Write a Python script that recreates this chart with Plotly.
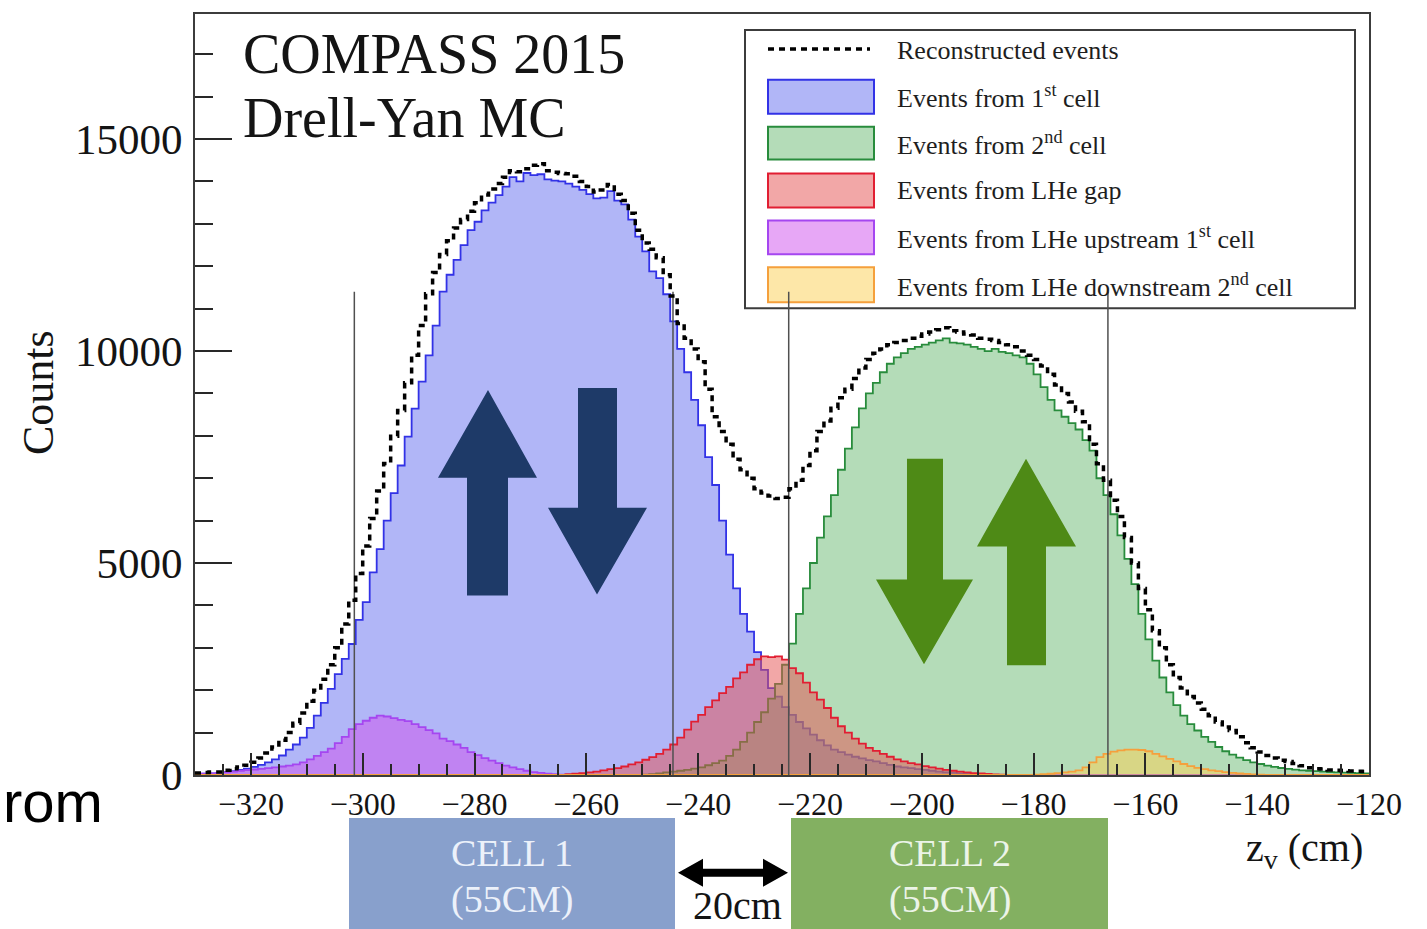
import numpy as np
import plotly.graph_objects as go

# ---- binning of the vertex z histograms (cm) ----
Z_LO = -330.0
BIN_W = 1.25
N_BINS = 168

# reconstructed events, all bins
recon_counts = [50, 60, 70, 70, 110, 150, 190, 230, 300, 400,
                520, 660, 820, 1000, 1220, 1460, 1740, 2000, 2260, 2600,
                3000, 3560, 4120, 4750, 5400, 6050, 6700, 7350, 7990, 8600,
                9250, 9900, 10600, 11350, 11850, 12280, 12600, 12900, 13100, 13300,
                13500, 13680, 13820, 13950, 14100, 14250, 14230, 14300, 14380, 14420,
                14250, 14220, 14190, 14180, 14120, 14000, 13880, 13750, 13800, 13930,
                13700, 13550, 13250, 12850, 12550, 12400, 12200, 11800, 11300, 10650,
                10300, 10050, 9750, 9100, 8450, 8100, 7800, 7450, 7200, 7000,
                6750, 6650, 6580, 6520, 6550, 6750, 6950, 7300, 7650, 8100,
                8350, 8650, 8900, 9100, 9350, 9600, 9800, 9950, 10050, 10150,
                10200, 10250, 10300, 10350, 10400, 10450, 10500, 10550, 10480, 10450,
                10400, 10380, 10300, 10280, 10250, 10200, 10150, 10100, 10000, 9900,
                9800, 9650, 9450, 9200, 9000, 8800, 8580, 8330, 7800, 7340,
                6950, 6480, 6100, 5600, 5000, 4400, 3900, 3400, 3000, 2600,
                2300, 2050, 1850, 1700, 1550, 1400, 1250, 1130, 1050, 900,
                760, 640, 540, 460, 400, 350, 320, 270, 220, 170,
                150, 140, 120, 110, 100, 95, 90, 80]

# events from the 1st cell (starting at bin 0)
cell1_first_bin = 0
cell1_counts = [20, 30, 40, 50, 70, 90, 120, 150, 190, 240,
                300, 370, 460, 600, 720, 880, 1110, 1400, 1700, 2030,
                2380, 2740, 3090, 3660, 4080, 4780, 5330, 6000, 6650, 7300,
                7980, 8640, 9280, 9900, 10600, 11400, 11800, 12150, 12500, 12850,
                13050, 13320, 13500, 13680, 13880, 14100, 14000, 14200, 14150, 14170,
                14050, 14020, 14000, 13950, 13880, 13800, 13700, 13600, 13620, 13770,
                13550, 13460, 13100, 12700, 12350, 11880, 11720, 11340, 10700, 10050,
                9500, 8850, 8250, 7500, 6840, 6000, 5200, 4400, 3800, 3380,
                2900, 2480, 2050, 1850, 1600, 1420, 1250, 1100, 950, 820,
                700, 600, 540, 480, 430, 390, 350, 320, 280, 240,
                200, 180, 160, 140, 120, 100, 80, 60, 50, 40,
                30, 20]

# events from the 2nd cell
cell2_first_bin = 64
cell2_counts = [10, 20, 40, 60, 80, 100, 120, 150, 180, 230,
                280, 340, 450, 600, 780, 1000, 1250, 1480, 1800, 2150,
                2600, 3100, 3800, 4400, 5000, 5600, 6100, 6600, 7200, 7700,
                8200, 8650, 9000, 9250, 9500, 9700, 9850, 9950, 10050, 10100,
                10150, 10200, 10250, 10300, 10200, 10180, 10150, 10100, 10050, 10000,
                10050, 9980, 9950, 9900, 9850, 9700, 9450, 9150, 8850, 8600,
                8450, 8300, 8150, 7900, 7650, 7000, 6600, 6150, 5650, 5100,
                4500, 3800, 3200, 2700, 2300, 1950, 1650, 1400, 1200, 1050,
                900, 780, 660, 560, 480, 410, 350, 300, 260, 220,
                190, 165, 145, 125, 110, 100, 90, 80, 70, 62,
                55, 50, 45, 40]

# events from the LHe gap between the cells
gap_first_bin = 53
gap_counts = [20, 30, 45, 60, 80, 110, 140, 160, 200, 250,
              300, 360, 420, 500, 600, 720, 880, 1070, 1260, 1420,
              1600, 1760, 1930, 2080, 2280, 2420, 2600, 2730, 2800, 2780,
              2800, 2720, 2520, 2400, 2180, 1950, 1780, 1580, 1350, 1150,
              1000, 860, 740, 640, 570, 500, 430, 370, 320, 280,
              250, 210, 180, 150, 120, 100, 80, 60, 45, 35,
              25, 15, 10]

# events from LHe upstream of the 1st cell
upstream_first_bin = 0
upstream_counts = [20, 30, 40, 50, 60, 80, 100, 115, 130, 145,
                   160, 180, 200, 220, 250, 300, 370, 450, 540, 620,
                   750, 900, 1080, 1200, 1280, 1350, 1400, 1380, 1340, 1300,
                   1270, 1200, 1130, 1060, 980, 860, 800, 720, 640, 540,
                   470, 400, 340, 280, 220, 180, 140, 100, 70, 50,
                   30, 20, 10]

# events from LHe downstream of the 2nd cell
downstream_first_bin = 120
downstream_counts = [10, 20, 30, 45, 60, 80, 110, 180, 300, 420,
                     500, 550, 580, 600, 600, 590, 560, 500, 440, 380,
                     320, 260, 210, 170, 140, 110, 90, 70, 50, 35,
                     25, 15, 10]

# cell boundary markers (cm) and their height (counts)
cell_edges_z = [-301.5, -244.5, -223.8, -166.7]
cell_marker_top = 11400

legend_labels = [
    "Reconstructed events",
    "Events from 1<sup>st</sup> cell",
    "Events from 2<sup>nd</sup> cell",
    "Events from LHe gap",
    "Events from LHe upstream 1<sup>st</sup> cell",
    "Events from LHe downstream 2<sup>nd</sup> cell",
]

SERIF = "Liberation Serif"

edges = Z_LO + BIN_W * np.arange(N_BINS + 1)


def full(first, vals):
    y = np.zeros(N_BINS)
    y[first:first + len(vals)] = vals
    return y


def step_y(counts):
    return np.append(counts, counts[-1])


components = [
    (full(cell1_first_bin, cell1_counts), "rgb(50,50,230)", "rgba(100,110,240,0.5)"),
    (full(cell2_first_bin, cell2_counts), "rgb(40,140,60)", "rgba(105,185,113,0.5)"),
    (full(gap_first_bin, gap_counts), "rgb(225,30,50)", "rgba(229,79,79,0.5)"),
    (full(upstream_first_bin, upstream_counts), "rgb(165,70,240)", "rgba(208,80,238,0.5)"),
    (full(downstream_first_bin, downstream_counts), "rgb(245,160,60)", "rgba(251,207,81,0.5)"),
]

fig = go.Figure()
for counts, lc, fc in components:
    fig.add_trace(go.Scatter(
        x=edges, y=step_y(counts), mode="lines",
        line=dict(shape="hv", color=lc, width=1.8),
        fill="tozeroy", fillcolor=fc, hoverinfo="skip", showlegend=False))

# cell boundary markers
vx, vy = [], []
for z in cell_edges_z:
    vx += [z, z, None]
    vy += [0, cell_marker_top, None]
fig.add_trace(go.Scatter(x=vx, y=vy, mode="lines",
                         line=dict(color="rgb(80,80,80)", width=1.5),
                         hoverinfo="skip", showlegend=False))

fig.add_trace(go.Scatter(
    x=edges, y=step_y(np.array(recon_counts, dtype=float)), mode="lines",
    line=dict(shape="hv", color="black", width=3.5, dash="6px,5px"),
    hoverinfo="skip", showlegend=False))

# ---- page geometry (pixels -> paper) ----
W, H = 1427, 929
L, R, T, B = 195, 1369, 12, 775


def PX(x):
    return (x - L) / (R - L)


def PY(y):
    return (B - y) / (B - T)


def poly(pts):
    return "M " + " L ".join(f"{PX(x):.5f},{PY(y):.5f}" for x, y in pts) + " Z"


shapes = []
# legend frame
shapes.append(dict(type="rect", xref="paper", yref="paper", layer="below",
                   x0=PX(745), x1=PX(1355), y0=PY(307), y1=PY(28),
                   line=dict(color="rgb(60,60,60)", width=2), fillcolor="white"))
shapes.append(dict(type="line", xref="paper", yref="paper", layer="below",
                   x0=PX(768), x1=PX(870), y0=PY(47), y1=PY(47),
                   line=dict(color="black", width=3.5, dash="6px,5px")))
swatch_rows = [(78, 112), (125, 158), (172, 206), (219, 253), (266, 301)]
for (top, bot), (_, lc, fc) in zip(swatch_rows, components):
    shapes.append(dict(type="rect", xref="paper", yref="paper", layer="below",
                       x0=PX(768), x1=PX(874), y0=PY(bot), y1=PY(top),
                       line=dict(color=lc, width=2), fillcolor=fc))

# spin arrows in each cell
navy = "rgb(30,58,104)"
leaf = "rgb(78,138,22)"
arrows = [
    ([(488, 389), (537, 477), (508, 477), (508, 595), (467, 595), (467, 477), (438, 477)], navy),
    ([(578, 387), (617, 387), (617, 507), (647, 507), (597, 594), (548, 507), (578, 507)], navy),
    ([(907, 458), (943, 458), (943, 579), (973, 579), (924, 664), (876, 579), (907, 579)], leaf),
    ([(1026, 458), (1076, 546), (1046, 546), (1046, 665), (1007, 665), (1007, 546), (977, 546)], leaf),
]
for pts, col in arrows:
    shapes.append(dict(type="path", xref="paper", yref="paper", path=poly(pts),
                       fillcolor=col, line=dict(width=0), layer="above"))

# target cell boxes under the axis
shapes.append(dict(type="rect", xref="paper", yref="paper",
                   x0=PX(349), x1=PX(675), y0=PY(935), y1=PY(818),
                   fillcolor="rgb(136,160,204)", line=dict(width=0)))
shapes.append(dict(type="rect", xref="paper", yref="paper",
                   x0=PX(791), x1=PX(1108), y0=PY(935), y1=PY(818),
                   fillcolor="rgb(131,176,97)", line=dict(width=0)))
# 20 cm gap double arrow
shapes.append(dict(type="path", xref="paper", yref="paper",
                   path=poly([(678, 873), (703, 859), (703, 869), (763, 869), (763, 859),
                              (788, 873), (763, 887), (763, 877), (703, 877), (703, 887)]),
                   fillcolor="black", line=dict(width=0)))

annotations = []


def txt(text, x, y, size, xanchor="center", family=SERIF, color="rgb(20,20,20)", angle=0):
    annotations.append(dict(text=text, x=PX(x), y=PY(y), xref="paper", yref="paper",
                            xanchor=xanchor, yanchor="middle", showarrow=False,
                            textangle=angle, font=dict(family=family, size=size, color=color)))


txt("COMPASS 2015", 241, 52, 56, xanchor="left")
txt("Drell-Yan MC", 241, 116, 56, xanchor="left")
for label, yc in zip(legend_labels, [49, 95, 142, 189, 236, 284]):
    txt(label, 895, yc, 26, xanchor="left", color="rgb(30,30,30)")
txt("Counts", 38, 392, 44, angle=-90)
txt("z<sub>v</sub> (cm)", 1304, 850, 40)
txt("CELL 1", 512, 853, 38, color="rgb(236,241,250)")
txt("(55CM)", 512, 900, 38, color="rgb(236,241,250)")
txt("CELL 2", 950, 853, 38, color="rgb(236,244,232)")
txt("(55CM)", 950, 900, 38, color="rgb(236,244,232)")
txt("20cm", 737, 906, 40)
txt("rom", 1, 802, 58, xanchor="left", family="Liberation Sans", color="black")

axis_common = dict(showgrid=False, zeroline=False, showline=True, mirror=True,
                   linecolor="rgb(60,60,60)", linewidth=2, ticks="inside",
                   tickcolor="rgb(40,40,40)", tickwidth=1.5)

fig.update_layout(
    width=W, height=H,
    margin=dict(l=L, r=W - R, t=T, b=H - B),
    paper_bgcolor="white", plot_bgcolor="white",
    font=dict(family=SERIF, color="rgb(20,20,20)"),
    showlegend=False,
    shapes=shapes, annotations=annotations,
    xaxis=dict(range=[Z_LO, edges[-1]], dtick=20, tick0=0, ticklen=22,
               minor=dict(dtick=5, ticklen=11, ticks="inside", tickcolor="rgb(40,40,40)", tickwidth=1.5),
               tickfont=dict(family=SERIF, size=32, color="rgb(20,20,20)"),
               ticklabelstandoff=0, **axis_common),
    yaxis=dict(range=[0, 17950], dtick=5000, tick0=0, ticklen=37, tickformat="d",
               minor=dict(dtick=1000, ticklen=18, ticks="inside", tickcolor="rgb(40,40,40)", tickwidth=1.5),
               tickfont=dict(family=SERIF, size=43, color="rgb(20,20,20)"),
               ticklabelstandoff=2, **axis_common),
)

fig.write_html("out.html")
